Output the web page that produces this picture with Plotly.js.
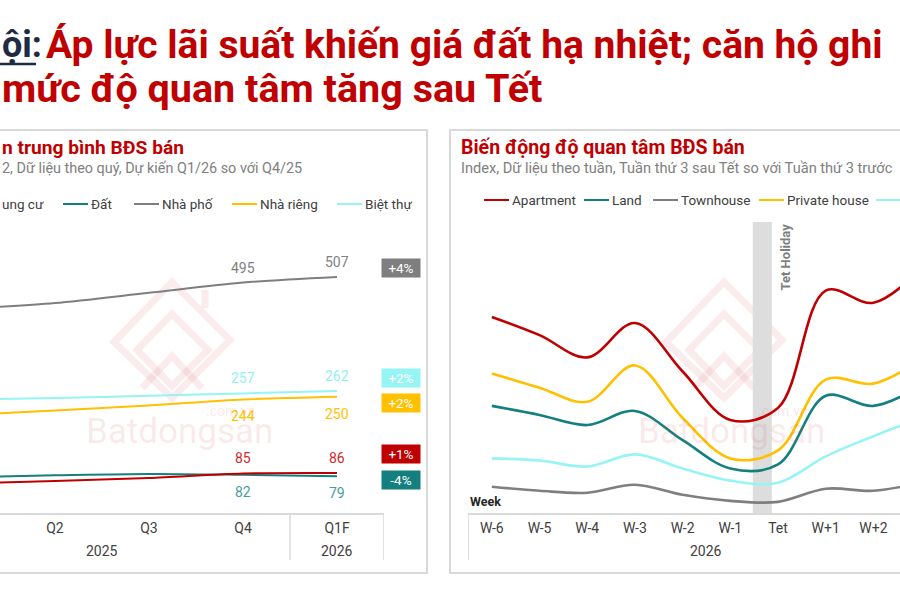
<!DOCTYPE html>
<html><head><meta charset="utf-8">
<script src="https://cdn.plot.ly/plotly-3.0.1.min.js"></script>
<style>html,body{margin:0;padding:0;background:#fff;overflow:hidden}#chart{width:900px;height:600px}</style>
</head><body><div id="chart"></div>
<script>
// ---------- DATA ----------
// Left panel: average listing price by quarter (Q1 is just off the left edge)
const quarters = ['Q1','Q2','Q3','Q4','Q1F'];
const yearGroupsLeft = ['2025','2026'];
const aptPrice   = [63, 69, 75, 85, 86];     // Chung cư
const landPrice  = [77, 81, 84, 82, 79];     // Đất
const townPrice  = [438, 451, 473, 495, 507];// Nhà phố
const privPrice  = [210, 220, 231, 244, 250];// Nhà riêng
const villaPrice = [243, 247, 252, 257, 262];// Biệt thự
const changeLabels = ['+4%', '+2%', '+2%', '+1%', '-4%']; // townhouse, villa, private, apt, land
const leftLegendNames = ['ung cư', 'Đất', 'Nhà phố', 'Nhà riêng', 'Biệt thự'];

// Right panel: weekly interest index around Tet (W+3 is just off the right edge)
const weeks = ['W-6','W-5','W-4','W-3','W-2','W-1','Tet','W+1','W+2','W+3'];
const yearGroupRight = '2026';
const aptIdx   = [97, 88, 77, 94, 70, 46, 52, 110, 104, 121];
const landIdx  = [53, 48.5, 43.5, 50.5, 36, 22, 24, 58, 53, 63];
const townIdx  = [13, 11, 10, 14, 9, 6, 5.5, 12, 11, 15];
const privIdx  = [69, 62, 55, 73, 47, 27, 31, 66, 64, 76];
const villaIdx = [27, 26, 23, 29, 22, 16, 15, 28, 38, 47];
const rightLegendNames = ['Apartment', 'Land', 'Townhouse', 'Private house', ''];

// ---------- STYLE ----------
const W = 900, H = 600;
const px = x => x / W, py = y => 1 - y / H;
const C = {red:'#c00000', teal:'#137f7f', gray:'#7f7f7f', yellow:'#ffc000', cyan:'#97f4f4'};
const F = 'Roboto, Arial, sans-serif';

const shapes = [];
const annotations = [];
const ann = (o) => annotations.push(Object.assign({showarrow:false, xref:'paper', yref:'paper'}, o));
const line = (x0,y0,x1,y1,color,width,extra) => shapes.push(Object.assign({type:'line', xref:'paper', yref:'paper', x0:px(x0), y0:py(y0), x1:px(x1), y1:py(y1), line:{color:color, width:width}}, extra||{}));

function priceTrace(vals, color, labelColor, above) {
  // value labels for the last two points, anchored to the data
  [3, 4].forEach(i => ann({xref:'x', yref:'y', x:i, y:vals[i], xanchor:'center', yanchor:'middle',
    yshift: above ? 15 : -17, text:String(vals[i]), font:{family:F, size:14, color:labelColor}}));
  return {type:'scatter', mode:'lines', x: quarters, y: vals, xaxis:'x', yaxis:'y',
    line:{color:color, width:2, shape:'spline', smoothing:0.8}, hoverinfo:'skip', showlegend:false};
}
function idxTrace(vals, color) {
  return {type:'scatter', mode:'lines', x: weeks, y: vals, xaxis:'x2', yaxis:'y2',
    line:{color:color, width:2.6, shape:'spline', smoothing:1}, hoverinfo:'skip', showlegend:false};
}

const traces = [
  priceTrace(townPrice, C.gray, '#7f7f7f', true),
  priceTrace(villaPrice, C.cyan, '#93f0f0', true),
  priceTrace(privPrice, C.yellow, '#ffc000', false),
  priceTrace(landPrice, C.teal, '#4a9c9e', false),
  priceTrace(aptPrice, C.red, '#d02a2a', true),
  idxTrace(townIdx, C.gray),
  idxTrace(villaIdx, C.cyan),
  idxTrace(landIdx, C.teal),
  idxTrace(privIdx, C.yellow),
  idxTrace(aptIdx, C.red)
];

// Panel borders
shapes.push({type:'rect', xref:'paper', yref:'paper', x0:px(-10), x1:px(427), y0:py(573), y1:py(130), line:{color:'#d9d9d9', width:2}, layer:'below'});
shapes.push({type:'rect', xref:'paper', yref:'paper', x0:px(450), x1:px(915), y0:py(573), y1:py(130), line:{color:'#d9d9d9', width:2}, layer:'below'});

// Watermarks
const wm = 'rgba(214,80,80,0.11)';
function logo(cx) {
  const p = pts => 'M ' + pts.map(q => px(cx + q[0]) + ' ' + py(q[1])).join(' L ');
  shapes.push({type:'path', xref:'paper', yref:'paper', layer:'below', path: p([[-58,342],[0,282],[58,340],[0,398],[-58,342]]) + ' Z', line:{color:wm, width:7}});
  shapes.push({type:'path', xref:'paper', yref:'paper', layer:'below', path: p([[-35,350],[0,314],[36,350],[0,386],[-35,350]]) + ' Z', line:{color:wm, width:7}});
  shapes.push({type:'path', xref:'paper', yref:'paper', layer:'below', path: p([[-30,388],[0,356],[30,388]]), line:{color:wm, width:7}});
  shapes.push({type:'path', xref:'paper', yref:'paper', layer:'below', path: p([[33,290],[33,308]]), line:{color:wm, width:7}});
  ann({x:px(cx - 88), y:py(431), xanchor:'left', yanchor:'middle', text:'Batdongsan', font:{family:F, size:35, color:'rgba(214,80,80,0.12)'}});
  ann({x:px(cx + 86), y:py(411), xanchor:'right', yanchor:'middle', text:'.com.vn', font:{family:F, size:14, color:'rgba(214,80,80,0.14)'}});
}
logo(172);
logo(724);

// Main title
ann({x:0, y:py(45), xanchor:'left', yanchor:'middle', text:'<b>ội:</b>', font:{family:F, size:36, color:'#1f2a44'}});
ann({x:px(44), y:py(45), xanchor:'left', yanchor:'middle', text:'<b>Áp lực lãi suất khiến giá đất hạ nhiệt; căn hộ ghi</b>', font:{family:F, size:39, color:C.red}});
ann({x:0, y:py(88), xanchor:'left', yanchor:'middle', text:'<b>mức độ quan tâm tăng sau Tết</b>', font:{family:F, size:39.5, color:C.red}});
line(0, 64, 36, 64, '#1f2a44', 2.5);

// Panel titles
ann({x:0, y:py(147), xanchor:'left', yanchor:'middle', text:'<b>n trung bình BĐS bán</b>', font:{family:F, size:19.2, color:C.red}});
ann({x:0, y:py(168), xanchor:'left', yanchor:'middle', text:'2, Dữ liệu theo quý, Dự kiến Q1/26 so với Q4/25', font:{family:F, size:14.4, color:'#808080'}});
ann({x:px(459), y:py(147), xanchor:'left', yanchor:'middle', text:'<b>Biến động độ quan tâm BĐS bán</b>', font:{family:F, size:19.5, color:C.red}});
ann({x:px(459), y:py(168), xanchor:'left', yanchor:'middle', text:'Index, Dữ liệu theo tuần, Tuần thứ 3 sau Tết so với Tuần thứ 3 trước', font:{family:F, size:14.6, color:'#808080'}});

// Left legend
const leftLegColors = [C.red, C.teal, C.gray, C.yellow, C.cyan];
const leftLegLineX = [-40, 63, 134, 232, 337];
leftLegendNames.forEach((n, i) => {
  if (i === 0) { ann({x:0, y:py(204), xanchor:'left', yanchor:'middle', text:n, font:{family:F, size:13.5, color:'#404040'}}); return; }
  line(leftLegLineX[i], 204, leftLegLineX[i] + 25, 204, leftLegColors[i], 2);
  ann({x:px(leftLegLineX[i] + 26), y:py(204), xanchor:'left', yanchor:'middle', text:n, font:{family:F, size:13.5, color:'#404040'}});
});

// Right legend
const rightLegColors = [C.red, C.teal, C.gray, C.yellow, C.cyan];
const rightLegLineX = [484, 584, 653, 759, 876];
rightLegendNames.forEach((n, i) => {
  line(rightLegLineX[i], 200, rightLegLineX[i] + 25, 200, rightLegColors[i], 2);
  if (n) ann({x:px(rightLegLineX[i] + 26), y:py(200), xanchor:'left', yanchor:'middle', text:n, font:{family:F, size:13.5, color:'#404040'}});
});

// Change boxes (left panel)
const boxColors = [C.gray, C.cyan, C.yellow, C.red, C.teal];
const boxY = [268, 378, 403, 454.5, 480];
changeLabels.forEach((t, i) => ann({x:px(401), y:py(boxY[i]), xanchor:'center', yanchor:'middle', text:t, bgcolor:boxColors[i], width:36, height:16, borderpad:1, font:{family:F, size:13.5, color:'#ffffff'}}));

// Axis group labels & dividers
ann({xref:'x', x:1.5, y:py(551), yanchor:'middle', text:yearGroupsLeft[0], font:{family:F, size:14, color:'#404040'}});
ann({xref:'x', x:4, y:py(551), yanchor:'middle', text:yearGroupsLeft[1], font:{family:F, size:14, color:'#404040'}});
[3.5, 4.5].forEach(v => shapes.push({type:'line', xref:'x', yref:'paper', x0:v, x1:v, y0:py(513), y1:py(560), line:{color:'#d9d9d9', width:1.5}}));
ann({xref:'x2', x:4.5, y:py(551), yanchor:'middle', text:yearGroupRight, font:{family:F, size:14, color:'#404040'}});
shapes.push({type:'line', xref:'x2', yref:'paper', x0:-0.5, x1:-0.5, y0:py(513), y1:py(560), line:{color:'#d9d9d9', width:1.5}});
ann({x:px(468), y:py(501), xanchor:'left', yanchor:'middle', text:'<b>Week</b>', font:{family:F, size:12.5, color:'#262626'}});

// Tet band
shapes.push({type:'rect', xref:'x2', yref:'paper', x0:5.47, x1:5.87, y0:py(513), y1:py(222), fillcolor:'#dddddd', line:{width:0}, layer:'below'});
ann({x:px(785), y:py(222), xanchor:'center', yanchor:'top', textangle:-90, text:'<b>Tet Holiday</b>', font:{family:F, size:13, color:'#7f7f7f'}});

const layout = {
  width: W, height: H, margin:{l:0, r:0, t:0, b:0}, paper_bgcolor:'#ffffff', plot_bgcolor:'rgba(0,0,0,0)',
  showlegend:false,
  xaxis:{type:'category', categoryorder:'array', categoryarray:quarters, domain:[0, px(384)], range:[0.415, 4.5], anchor:'y',
    showline:true, linecolor:'#d9d9d9', linewidth:1.5, showgrid:false, zeroline:false, ticks:'', ticklabelstandoff:2,
    tickfont:{family:F, size:14, color:'#404040'}, fixedrange:true},
  yaxis:{domain:[py(513), py(230)], range:[0, 608], visible:false, anchor:'x', fixedrange:true},
  xaxis2:{type:'category', categoryorder:'array', categoryarray:weeks, domain:[px(468), 1], range:[-0.5, 8.557], anchor:'y2',
    showline:true, linecolor:'#d9d9d9', linewidth:1.5, showgrid:false, zeroline:false, ticks:'', ticklabelstandoff:2,
    tickfont:{family:F, size:14, color:'#404040'}, fixedrange:true},
  yaxis2:{domain:[py(513), py(230)], range:[0, 140], visible:false, anchor:'x2', fixedrange:true},
  shapes: shapes, annotations: annotations
};
Plotly.newPlot('chart', traces, layout, {staticPlot:true, displayModeBar:false});
</script></body></html>
